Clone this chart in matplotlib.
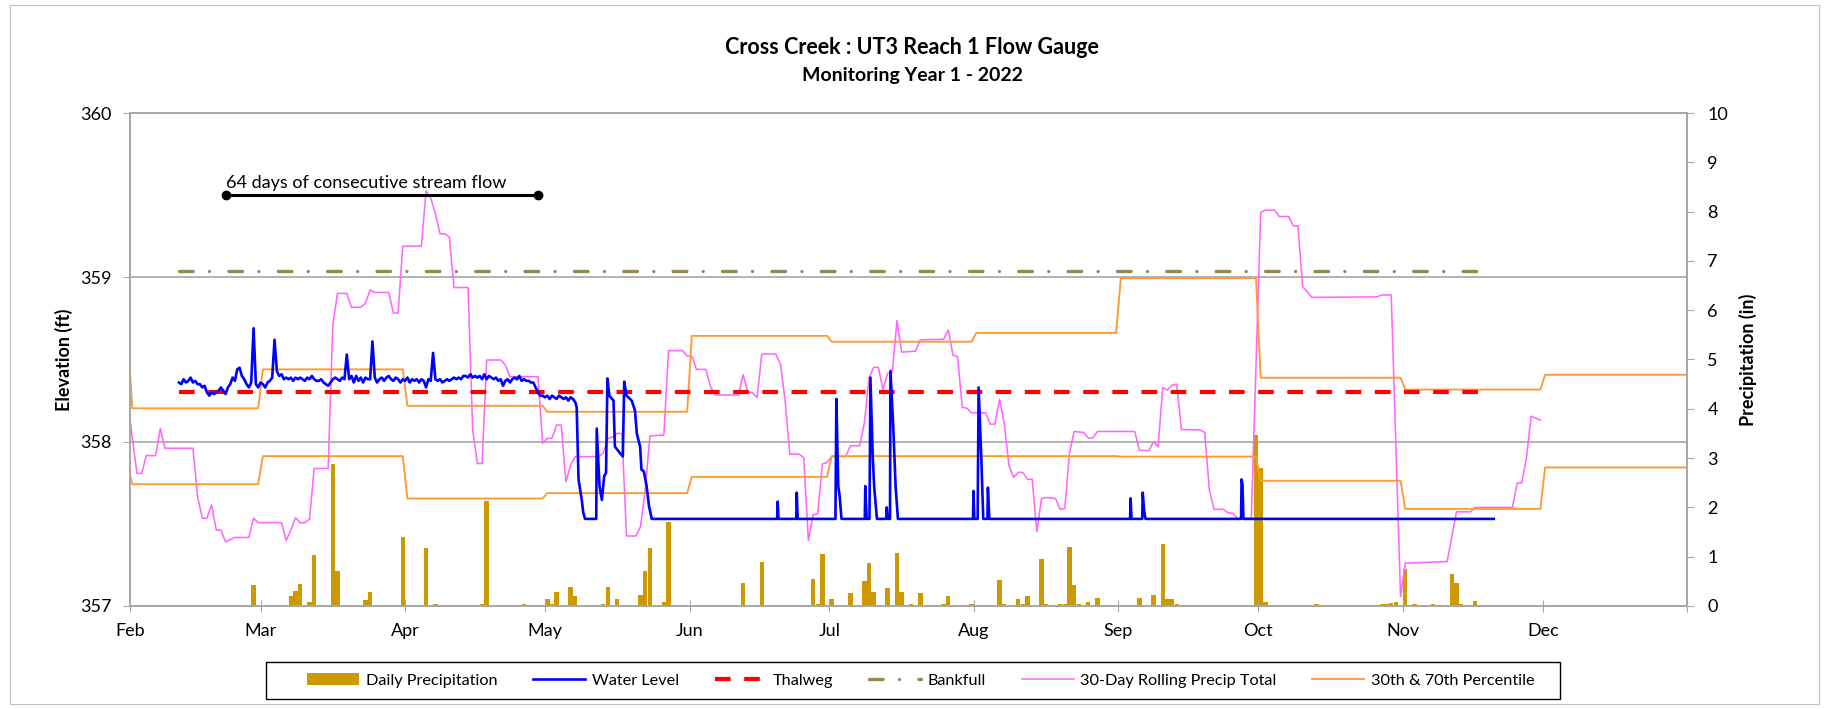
import datetime
import numpy as np
import matplotlib
matplotlib.use('Agg')
import matplotlib.pyplot as plt
import matplotlib.dates as mdates
from matplotlib.lines import Line2D
from matplotlib.patches import Patch, Rectangle
from matplotlib.transforms import blended_transform_factory

plt.rcParams['font.family'] = ['Lato', 'DejaVu Sans']

# day index = days since Feb 1 2022
precip_day = [26, 34, 35, 36, 38, 39, 43, 44, 50, 51, 58, 63, 65, 75, 76, 84, 89, 90, 91,
              94, 95, 101, 102, 104, 109, 110, 111, 114, 115, 131, 135, 146, 147, 148, 150,
              154, 157, 158, 159, 162, 164, 165, 167, 169, 174, 175, 180, 186, 187, 190,
              191, 192, 195, 196, 199, 200, 201, 202, 203, 205, 207, 216, 219, 221, 222,
              223, 224, 241, 242, 243, 254, 268, 269, 270, 271, 273, 275, 279, 283, 284,
              285, 288]
precip_in = [0.43, 0.20, 0.31, 0.45, 0.09, 1.03, 2.89, 0.72, 0.12, 0.29, 1.39, 1.17, 0.05,
             0.04, 2.12, 0.05, 0.14, 0.04, 0.29, 0.38, 0.20, 0.05, 0.38, 0.14, 0.22, 0.70,
             1.17, 0.09, 1.71, 0.46, 0.90, 0.54, 0.05, 1.05, 0.14, 0.26, 0.51, 0.87, 0.28,
             0.37, 1.07, 0.28, 0.04, 0.27, 0.05, 0.20, 0.04, 0.53, 0.05, 0.14, 0.05, 0.20,
             0.95, 0.05, 0.04, 0.05, 1.19, 0.43, 0.04, 0.09, 0.16, 0.16, 0.22, 1.25, 0.15,
             0.14, 0.04, 3.47, 2.79, 0.08, 0.05, 0.05, 0.04, 0.07, 0.09, 0.76, 0.04, 0.04,
             0.65, 0.47, 0.04, 0.11]

# 30-day rolling precip total (breakpoints, day index, inches)
roll_day = [-1, 0, 1, 2, 3, 5, 6, 7, 13, 14, 15, 16, 17, 18, 19, 20, 22, 25, 26, 27, 32, 33,
            34, 35, 36, 37, 38, 39, 42, 43, 44, 46, 47, 49, 50, 51, 52, 55, 56, 57, 58, 62,
            63, 64, 65, 66, 67, 68, 69, 72, 73, 74, 75, 76, 79, 80, 81, 87, 88, 89, 90, 91,
            92, 93, 94, 95, 100, 101, 102, 103, 104, 105, 106, 108, 109, 110, 111, 114, 115,
            118, 119, 120, 121, 123, 124, 125, 130, 131, 132, 133, 134, 135, 138, 139, 140,
            141, 143, 144, 145, 146, 147, 148, 149, 150, 153, 154, 156, 157, 158, 159, 160,
            161, 162, 163, 164, 165, 168, 169, 174, 175, 176, 177, 178, 179, 180, 183, 184,
            185, 186, 187, 188, 189, 190, 191, 192, 193, 194, 195, 196, 198, 199, 200, 201,
            202, 204, 205, 206, 207, 215, 216, 218, 219, 220, 221, 222, 223, 224, 225, 229,
            230, 231, 232, 234, 235, 236, 237, 240, 242, 243, 245, 246, 248, 249, 250, 251,
            253, 267, 268, 270, 272, 273, 276, 282, 284, 287, 288, 296, 297, 298, 299, 300,
            302]
roll_in = [4.20, 3.40, 2.69, 2.69, 3.05, 3.05, 3.60, 3.20, 3.20, 2.22, 1.78, 1.78, 2.05, 1.54,
           1.54, 1.30, 1.39, 1.39, 1.78, 1.69, 1.69, 1.33, 1.54, 1.79, 1.69, 1.69, 1.76, 2.79,
           2.79, 5.70, 6.34, 6.34, 6.06, 6.06, 6.14, 6.41, 6.36, 6.36, 5.94, 5.94, 7.30, 7.30,
           8.42, 8.27, 7.96, 7.55, 7.55, 7.48, 6.46, 6.46, 3.57, 2.89, 2.89, 4.99, 4.99, 4.89,
           4.65, 4.65, 3.30, 3.40, 3.40, 3.67, 3.67, 2.52, 2.86, 3.03, 3.03, 3.10, 3.40, 3.43,
           3.50, 3.50, 1.42, 1.42, 1.61, 2.35, 3.45, 3.47, 5.18, 5.18, 5.07, 5.07, 4.80, 4.80,
           4.45, 4.28, 4.28, 4.69, 4.33, 4.33, 4.23, 5.11, 5.11, 4.91, 4.18, 3.08, 3.08, 3.01,
           1.33, 1.85, 1.87, 2.88, 2.91, 3.03, 3.03, 3.25, 3.25, 3.71, 4.62, 4.84, 4.84, 4.39,
           4.72, 4.74, 5.79, 5.15, 5.17, 5.40, 5.41, 5.60, 5.09, 5.06, 4.03, 4.01, 3.92, 3.92,
           3.69, 3.69, 4.19, 3.71, 2.86, 2.61, 2.71, 2.71, 2.57, 2.57, 1.51, 2.18, 2.20, 2.18,
           1.96, 1.98, 3.11, 3.54, 3.52, 3.41, 3.41, 3.54, 3.54, 3.16, 3.15, 3.33, 3.23, 4.43,
           4.38, 4.48, 4.50, 3.58, 3.57, 3.52, 2.35, 1.96, 1.96, 1.89, 1.88, 1.78, 1.78, 7.98,
           8.03, 8.03, 7.90, 7.90, 7.71, 7.71, 6.48, 6.26, 6.27, 6.31, 6.31, 0.19, 0.87, 0.88,
           0.90, 1.91, 1.91, 2.00, 2.00, 2.49, 2.50, 3.00, 3.85, 3.77]

# 30th / 70th percentile, one value per month (Jan 31, Feb ... Dec)
month_days = [1, 28, 31, 30, 31, 30, 31, 31, 30, 31, 30, 31]
pct70 = [5.50, 4.01, 4.80, 4.06, 3.94, 5.48, 5.36, 5.54, 6.65, 4.63, 4.39, 4.69]
pct30 = [2.85, 2.47, 3.04, 2.18, 2.29, 2.62, 3.04, 3.04, 3.03, 2.54, 1.97, 2.81]

# water level, Feb 11 - Apr 29, every half day
wl_start, wl_step = 10.5, 0.5
wl_early = [358.36, 358.35, 358.38, 358.36, 358.37, 358.39, 358.36, 358.37, 358.35, 358.35,
            358.33, 358.34, 358.30, 358.28, 358.30, 358.29, 358.30, 358.31, 358.33, 358.31,
            358.29, 358.33, 358.35, 358.39, 358.37, 358.44, 358.45, 358.40, 358.38, 358.35,
            358.33, 358.36, 358.69, 358.35, 358.33, 358.36, 358.35, 358.33, 358.36, 358.37,
            358.39, 358.62, 358.43, 358.40, 358.41, 358.38, 358.39, 358.38, 358.39, 358.37,
            358.39, 358.38, 358.39, 358.38, 358.37, 358.39, 358.38, 358.40, 358.38, 358.37,
            358.37, 358.38, 358.36, 358.35, 358.34, 358.36, 358.38, 358.39, 358.38, 358.37,
            358.39, 358.38, 358.53, 358.38, 358.40, 358.36, 358.40, 358.37, 358.39, 358.36,
            358.39, 358.38, 358.38, 358.61, 358.39, 358.36, 358.38, 358.39, 358.37, 358.39,
            358.40, 358.38, 358.37, 358.39, 358.38, 358.36, 358.38, 358.37, 358.39, 358.36,
            358.38, 358.37, 358.38, 358.36, 358.38, 358.37, 358.33, 358.38, 358.37, 358.54,
            358.38, 358.37, 358.38, 358.36, 358.37, 358.38, 358.37, 358.38, 358.39, 358.38,
            358.39, 358.38, 358.40, 358.40, 358.39, 358.41, 358.39, 358.40, 358.39, 358.40,
            358.38, 358.41, 358.38, 358.40, 358.39, 358.38, 358.39, 358.37, 358.38, 358.34,
            358.37, 358.38, 358.36, 358.38, 358.39, 358.38, 358.40, 358.37, 358.38, 358.37,
            358.37, 358.36, 358.36, 358.33, 358.30, 358.28]

# water level from Apr 29 on (day, ft)
wl_day = [88.5, 89.0, 89.5, 90.0, 90.5, 91.0, 91.5, 92.0, 92.5, 93.0, 93.5, 94.0, 94.5, 95.0,
          95.5, 95.8, 96.2, 96.9, 97.2, 97.6, 100.0, 100.1, 100.7, 101.2, 101.7, 102.1, 102.4,
          102.8, 103.7, 104.0, 105.1, 105.7, 106.0, 106.5, 107.6, 108.3, 108.7, 109.4, 109.7,
          110.2, 110.8, 111.3, 111.9,
          138.8, 138.9, 139.1, 142.9, 143.0, 143.2,
          151.3, 151.5, 151.9, 152.2, 152.6, 157.6, 157.7, 158.0,
          158.6, 158.8, 159.3, 159.6, 160.2, 162.2, 162.3, 162.5,
          163.0, 163.1, 163.7, 164.2, 164.7, 180.8, 180.9, 181.1,
          181.8, 182.0, 182.6, 183.0, 183.9, 184.0, 184.3,
          214.5, 214.6, 214.8, 217.1, 217.2, 217.5, 217.8,
          238.3, 238.4, 238.6, 238.8, 292.5]
wl_ft = [358.28, 358.27, 358.28, 358.26, 358.28, 358.27, 358.26, 358.28, 358.27, 358.26,
         358.27, 358.25, 358.27, 358.26, 358.24, 358.21, 357.77, 357.645, 357.57, 357.53,
         357.53, 358.08, 357.73, 357.645, 357.79, 357.81, 358.385, 358.28, 358.25, 357.97,
         357.93, 357.91, 358.365, 358.28, 358.25, 358.19, 358.05, 357.97, 357.83, 357.82,
         357.73, 357.61, 357.53,
         357.53, 357.635, 357.53, 357.53, 357.69, 357.53,
         357.53, 358.26, 357.73, 357.67, 357.53, 357.53, 357.73, 357.53,
         357.53, 358.39, 357.91, 357.73, 357.53, 357.53, 357.60, 357.53,
         357.53, 358.43, 358.09, 357.73, 357.53, 357.53, 357.70, 357.53,
         357.53, 358.33, 357.89, 357.53, 357.53, 357.72, 357.53,
         357.53, 357.655, 357.53, 357.53, 357.69, 357.58, 357.53,
         357.53, 357.77, 357.74, 357.53, 357.53]

thalweg_ft = 358.30
bankfull_ft = 359.04
ref_first_day, ref_last_day = 10, 290
flow_first_day, flow_last_day = 20, 87
flow_ft = 359.50

base = mdates.date2num(datetime.date(2022, 2, 1))

fig = plt.figure(figsize=(18.26, 7.09), dpi=100)
ax1 = fig.add_axes([0.07119, 0.14528, 0.85285, 0.69534])
ax2 = ax1.twinx()
ax1.set_zorder(ax2.get_zorder() + 1)
ax1.patch.set_visible(False)

grey = '#A6A6A6'

# horizontal gridlines from the elevation axis, drawn behind the bars
grid_tr = blended_transform_factory(ax2.transAxes, ax1.transData)
for v in [358, 359]:
    ax2.add_line(Line2D([0, 1], [v, v], transform=grid_tr, color=grey, lw=1.2, zorder=0.5))

# precipitation axis
ax2.bar(base + np.array(precip_day) + 0.5, precip_in, width=0.95, color='#CC9900',
        zorder=2)
ax2.plot(base + np.array(roll_day) + 0.5, roll_in, color='#FF66FF', lw=1.15, zorder=3)
pct_x = base + np.arange(-1, 334) + 0.5
ax2.plot(pct_x, np.repeat(pct70, month_days), color='#FF9933', lw=1.35, zorder=3)
ax2.plot(pct_x, np.repeat(pct30, month_days), color='#FF9933', lw=1.35, zorder=3)

# elevation axis
ref_x = base + np.array([ref_first_day, ref_last_day]) + 0.5
ax1.plot(ref_x, [bankfull_ft, bankfull_ft], color='#948A54', lw=2.4,
         dashes=(4.1, 4.9, 0.01, 5.8), dash_capstyle='round')
ax1.plot(ref_x, [thalweg_ft, thalweg_ft], color='#FF0000', lw=3.0, dashes=(3.75, 3.25))
wl_x = np.concatenate([base + wl_start + wl_step * np.arange(len(wl_early)),
                       base + np.array(wl_day)])
wl_y = np.concatenate([wl_early, wl_ft])
ax1.plot(wl_x, wl_y, color='#0000FF', lw=1.9)

flow_x = base + np.array([flow_first_day, flow_last_day]) + 0.5
ax1.plot(flow_x, [flow_ft, flow_ft], color='black', lw=2.2, marker='o', ms=6)
ax1.text(flow_x[0], flow_ft + 0.025, '64 days of consecutive stream flow', fontsize=13,
         ha='left', va='bottom')

ax1.set_xlim(base, base + 334)
ax1.set_ylim(357, 360)
ax2.set_ylim(0, 10)
ax1.set_yticks([357, 358, 359, 360])
ax2.set_yticks(range(0, 11))

ax1.xaxis.set_major_locator(mdates.MonthLocator())
ax1.xaxis.set_major_formatter(
    matplotlib.ticker.FuncFormatter(lambda x, p: '' if mdates.num2date(x).month == 1
                                    else mdates.num2date(x).strftime('%b')))

ax1.tick_params(axis='x', direction='inout', length=9, color=grey, labelsize=13, pad=7.5)
ax1.tick_params(axis='y', direction='out', length=5, color=grey, labelsize=13, pad=8)
ax2.tick_params(axis='y', direction='out', length=5, color=grey, labelsize=13, pad=9.5)

for ax in (ax1, ax2):
    for s in ax.spines.values():
        s.set_color(grey)
        s.set_linewidth(1.2)

ax1.set_ylabel('Elevation (ft)', fontsize=13, fontweight='bold')
ax1.yaxis.set_label_coords(-0.0366, 0.5)
ax2.set_ylabel('Precipitation (in)', fontsize=13, fontweight='bold')
ax2.yaxis.set_label_coords(1.033, 0.5)

fig.text(0.4995, 1 - 48 / 709, 'Cross Creek : UT3 Reach 1 Flow Gauge', ha='center',
         va='center', fontsize=15.5, fontweight='bold')
fig.text(0.4995, 1 - 76 / 709, 'Monitoring Year 1 - 2022', ha='center', va='center',
         fontsize=14, fontweight='bold')

handles = [
    Patch(facecolor='#CC9900', edgecolor='none'),
    Line2D([], [], color='#0000FF', lw=1.9),
    Line2D([], [], color='#FF0000', lw=3.0, dashes=(3.75, 3.25)),
    Line2D([], [], color='#948A54', lw=2.4, dashes=(4.1, 4.9, 0.01, 5.8),
           dash_capstyle='round'),
    Line2D([], [], color='#FF66FF', lw=1.15),
    Line2D([], [], color='#FF9933', lw=1.35),
]
labels = ['Daily Precipitation', 'Water Level', 'Thalweg', 'Bankfull',
          '30-Day Rolling Precip Total', '30th & 70th Percentile']
fig.legend(handles, labels, loc='center', bbox_to_anchor=(0.5044, 0.0402), ncol=6,
           fontsize=11.7, frameon=False, handlelength=3.2, handleheight=0.8,
           columnspacing=2.2, handletextpad=0.4)
# legend box
fig.add_artist(Rectangle((0.1454, 0.0141), 0.7092, 0.0522, transform=fig.transFigure,
                         fill=False, ec='black', lw=1.0))

fig.add_artist(Rectangle((0.0055, 0.007), 0.9907, 0.9866, transform=fig.transFigure,
                         fill=False, ec='#BFBFBF', lw=0.8))

fig.savefig('out.png', dpi=100)
